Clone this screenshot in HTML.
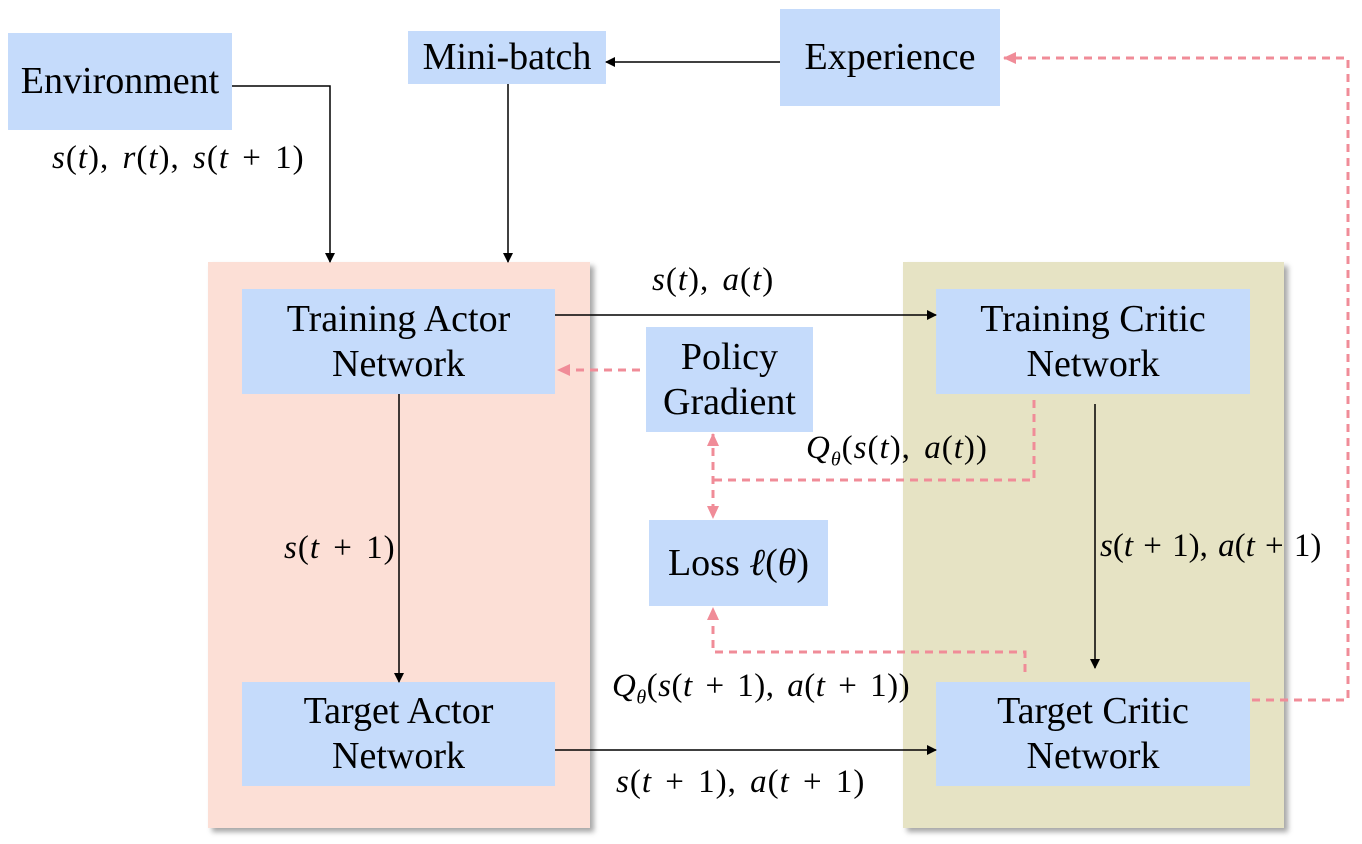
<!DOCTYPE html>
<html><head><meta charset="utf-8"><style>
body{margin:0;width:1362px;height:844px;background:#fff;position:relative;overflow:hidden;font-family:"Liberation Serif",serif;}
.b{position:absolute;background:#c5dbfb;display:flex;align-items:center;justify-content:center;text-align:center;font-size:38px;line-height:45px;color:#000;font-family:"Liberation Serif",serif;}
.p{position:absolute;box-shadow:4px 4px 5px rgba(0,0,0,0.35);}
.l{position:absolute;font-style:italic;font-size:33px;white-space:nowrap;color:#000;font-family:"Liberation Serif",serif;letter-spacing:1px;word-spacing:4px}
.l span{font-style:normal}
svg{position:absolute;left:0;top:0}
</style></head><body>
<div class="p" style="left:208px;top:262px;width:382px;height:566px;background:#fcdfd6"></div>
<div class="p" style="left:903px;top:262px;width:381px;height:566px;background:#e6e3c4"></div>
<div class="b" style="left:8px;top:33px;width:224px;height:97px">Environment</div>
<div class="b" style="left:408px;top:31px;width:198px;height:53px">Mini-batch</div>
<div class="b" style="left:780px;top:9px;width:220px;height:97px">Experience</div>
<div class="b" style="left:242px;top:289px;width:313px;height:105px">Training Actor<br>Network</div>
<div class="b" style="left:646px;top:327px;width:167px;height:105px">Policy<br>Gradient</div>
<div class="b" style="left:936px;top:289px;width:314px;height:105px">Training Critic<br>Network</div>
<div class="b" style="left:649px;top:520px;width:179px;height:86px">Loss&nbsp;<i>ℓ</i>(<i>θ</i>)</div>
<div class="b" style="left:242px;top:682px;width:313px;height:104px">Target Actor<br>Network</div>
<div class="b" style="left:936px;top:682px;width:314px;height:104px">Target Critic<br>Network</div>
<svg width="1362" height="844">
<defs>
<marker id="a" markerWidth="10" markerHeight="10" refX="9" refY="5" orient="auto" markerUnits="userSpaceOnUse"><path d="M0,0 L10,5 L0,10 z" fill="#000"/></marker>
<marker id="pk" markerWidth="14" markerHeight="14" refX="12" refY="7" orient="auto-start-reverse" markerUnits="userSpaceOnUse"><path d="M0,1 L13,7 L0,13 z" fill="#f08c98"/></marker>
</defs>
<g stroke="#000" stroke-width="1.5" fill="none">
<path d="M232,86 H330 V262" marker-end="url(#a)"/>
<path d="M508,84 V262" marker-end="url(#a)"/>
<path d="M780,62 H606" marker-end="url(#a)"/>
<path d="M555,315 H936" marker-end="url(#a)"/>
<path d="M399,394 V682" marker-end="url(#a)"/>
<path d="M1095,404 V668" marker-end="url(#a)"/>
<path d="M555,750 H936" marker-end="url(#a)"/>
</g>
<g stroke="#f08c98" stroke-width="3" fill="none" stroke-dasharray="8,6">
<path d="M640,370 H558" marker-end="url(#pk)"/>
<path d="M1034,400 V480 H713"/>
<path d="M713,434 V518" marker-start="url(#pk)" marker-end="url(#pk)"/>
<path d="M1025,672 V652 H713 V608" marker-end="url(#pk)"/>
<path d="M1252,700 H1348 V58 H1004" marker-end="url(#pk)"/>
</g>
</svg>
<div class="l" style="left:52px;top:140px">s<span>(</span>t<span>), </span>r<span>(</span>t<span>), </span>s<span>(</span>t<span> + 1)</span></div>
<div class="l" style="left:652px;top:262px">s<span>(</span>t<span>), </span>a<span>(</span>t<span>)</span></div>
<div class="l" style="left:284px;top:530px">s<span>(</span>t<span> + 1)</span></div>
<div class="l" style="left:806px;top:430px">Q<sub style="font-size:20px">θ</sub><span>(</span>s<span>(</span>t<span>), </span>a<span>(</span>t<span>))</span></div>
<div class="l" style="left:1100px;top:528px;letter-spacing:0;word-spacing:2px">s<span>(</span>t<span> + 1), </span>a<span>(</span>t<span> + 1)</span></div>
<div class="l" style="left:612px;top:668px;letter-spacing:0.5px">Q<sub style="font-size:20px">θ</sub><span>(</span>s<span>(</span>t<span> + 1), </span>a<span>(</span>t<span> + 1))</span></div>
<div class="l" style="left:616px;top:764px">s<span>(</span>t<span> + 1), </span>a<span>(</span>t<span> + 1)</span></div>
</body></html>
